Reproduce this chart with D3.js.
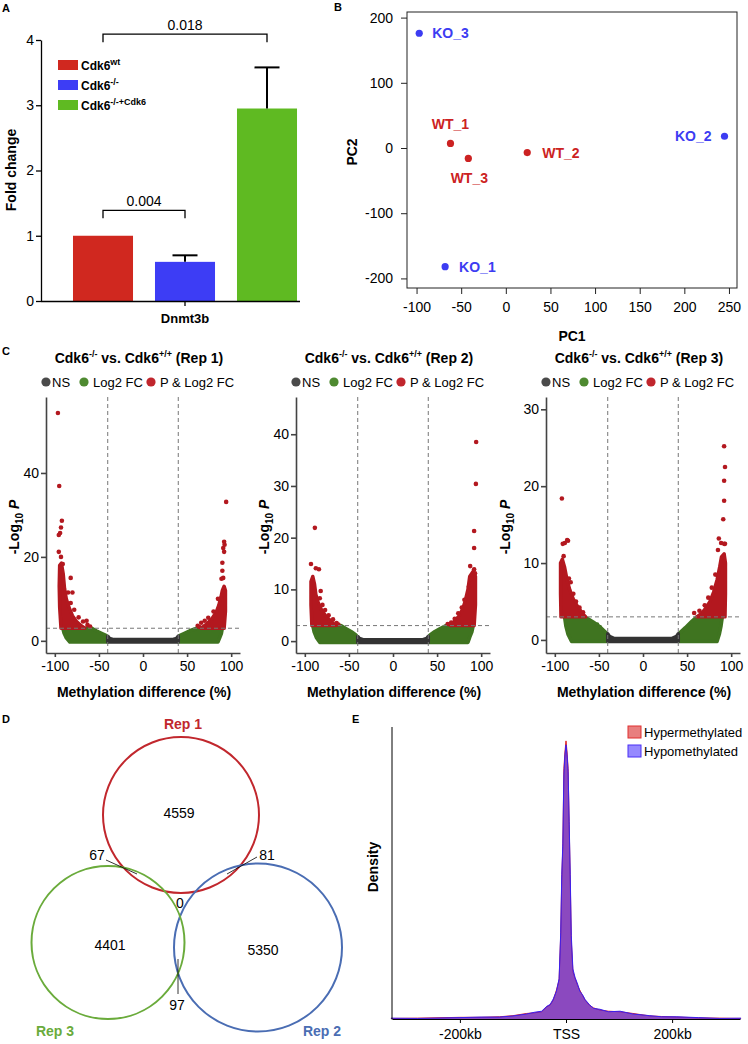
<!DOCTYPE html>
<html>
<head>
<meta charset="utf-8">
<script src="https://d3js.org/d3.v7.min.js"></script>
<style>
  body { margin: 0; background: #fff; }
  svg { display: block; font-family: "Liberation Sans", Arial, sans-serif; }
</style>
</head>
<body>
<svg width="748" height="1044"></svg>
<script>

// ---- A: Dnmt3b fold change
var groupsA = ["wt", "ko", "rescue"];
var supA = ["wt", "-/-", "-/-+Cdk6"];
var foldChange = [1.0, 0.6, 2.95];
var foldErr = [0, 0.1, 0.63];
var pairsA = [[0, 1], [0, 2]];
var pLabelsA = ["0.004", "0.018"];

// ---- B: PCA
var pcaNames = ["KO_3", "KO_1", "KO_2", "WT_1", "WT_3", "WT_2"];
var pc1 = [-97, -68, 245, -62, -42, 24];
var pc2 = [176, -182, 18, 7, -16, -7];
var pcaGroup = ["KO", "KO", "KO", "WT", "WT", "WT"];

// ---- C: volcano plots (dense regions as outlines, sparse points one by one)
var repNames = ["Rep 1", "Rep 2", "Rep 3"];
var volYTicks = [[0, 20, 40], [0, 10, 20, 30, 40], [0, 10, 20, 30]];
var volXTicks = [-100, -50, 0, 50, 100];
var fcCut = 40, pCut = 3;

var nsBand = [
  [[-40,-0.3],[-40,1.1],[-38,0.6],[-33,0.3],[33,0.3],[38,0.6],[40,1.1],[40,-0.3]],
  [[-40,-0.25],[-40,0.9],[-38,0.5],[-33,0.25],[33,0.25],[38,0.5],[40,0.9],[40,-0.25]],
  [[-40,-0.2],[-40,0.8],[-38,0.45],[-33,0.2],[33,0.2],[38,0.45],[40,0.8],[40,-0.2]]
];
var greenLeft = [
  [[-91,3],[-89.5,1.8],[-87,0.7],[-83,-0.3],[-40,-0.3],[-40,0.8],[-42,1.3],[-47,1.8],[-53,2.4],[-58,3]],
  [[-91,3],[-89.5,1.8],[-87,0.7],[-83,-0.25],[-40,-0.25],[-40,0.7],[-42,1.2],[-47,1.8],[-53,2.4],[-59,3]],
  [[-89,3],[-87.5,1.8],[-85,0.7],[-81,-0.2],[-40,-0.2],[-40,0.6],[-42,0.95],[-48,1.6],[-56,2.3],[-66,3]]
];
var greenRight = [
  [[40,-0.3],[40,0.8],[42,1.3],[47,1.8],[53,2.4],[61,3],[90,3],[89,1.8],[87,0.7],[85,-0.3]],
  [[40,-0.25],[40,0.7],[42,1.2],[47,1.8],[53,2.4],[60,3],[91,3],[89.5,1.8],[87,0.7],[85,-0.25]],
  [[40,-0.2],[40,0.6],[42,0.95],[48,1.6],[55,2.4],[61,3],[90,3],[88.5,1.8],[86.5,0.7],[84,-0.2]]
];
var redLeft = [
  [[-93,3],[-94.5,8],[-95,13],[-94.5,18],[-92.5,18.5],[-90.5,16],[-89,12.5],[-87,10],[-84,8],[-80,6],[-75,4.5],[-70,3.6],[-66,3]],
  [[-92,3],[-93,7],[-93,11.5],[-91,12.5],[-89,11],[-87.5,9],[-85,7.5],[-81,6],[-76,4.8],[-70,3.8],[-65,3]],
  [[-93,3],[-93.5,6],[-93.5,10],[-91.5,10.5],[-89,9.5],[-86.5,8],[-83,6.5],[-79,5.3],[-74,4.3],[-69,3.5],[-65,3]]
];
var redRight = [
  [[66,3],[72,4],[78,5.2],[83,6.8],[86,8.5],[88.5,10.5],[90,12],[92,13],[93.5,12],[93.5,7],[92,3]],
  [[65,3],[70,3.9],[75,4.9],[79,6.2],[82,7.8],[85,10],[87,12.5],[91,13.5],[93.5,12.5],[93.5,7],[92,3]],
  [[61,3],[66,3.4],[71,4.1],[76,5],[80,6.2],[84,7.8],[87,9.5],[89,10.8],[92,11.2],[93.5,10],[93.5,6],[93,3]]
];
var redPoints = [
  [[-96.5,54.3],[-95,36.9],[-92,28.6],[-93,27],[-94,25.7],[-95.5,25.2],[-95.5,21.2],[-93,20],[-91,18.3],
   [-82,15],[-80,11.5],[-85,11.5],[-82,9],[-78,7.4],[-73,5.6],[-68,4.6],[-64,4.8],[-63,3.8],[-60,3.4],
   [94.3,33.1],[92,23.6],[92.5,22.9],[91,22.1],[92,21.2],[90,18.6],[90,16.7],[91,15],[89,14.8],
   [85,10],[80,7],[74,5.5],[70,4.8],[66,4.3],[62,3.6],[64,3.3]],
  [[-88.6,21.9],[-93,14.9],[-87.5,14.1],[-84,13.9],[-82,9.7],[-83,8.3],[-80,7],[-77,6],[-73,5],[-68,4.2],[-64,3.5],[-62,3.2],
   [94.3,38.5],[94,30.4],[92,21.3],[92,18],[87.5,14.5],[92,13.9],[93,13.1],[88,12],[86,10.5],[81,8],[78,6.5],
   [74,5.4],[70,4.3],[66,3.6],[62,3.3]],
  [[-92,18.4],[-86,13],[-85,12.9],[-88.6,12.6],[-91,12.5],[-90,10.9],[-84,8],[-82,7.5],[-79,6],[-76,5],[-72,4.2],[-68,3.6],
   [92,25.2],[93,22.5],[92,20.7],[92,18.1],[91,15.7],[86,13.2],[88.6,12.6],[92,12.5],[93,12.5],[85,11.7],
   [82,8.5],[78,6.8],[74,5.5],[70,4.5],[58,3.5],[64,3.8]]
];
var greenPoints = [[], [], [[-52,2],[-49,1.7]]];

// ---- D: Venn counts
var vennSets = ["Rep 1", "Rep 2", "Rep 3"];
var vennRegions = ["1", "2", "3", "1&2", "1&3", "2&3", "1&2&3"];
var vennValues = [4559, 5350, 4401, 81, 67, 97, 0];

// ---- E: density around TSS (kb)
var densKb = [-330,-280,-200,-160,-125,-100,-74,-60,-46,-36,-30,-24,-18,-13,-10,-8,-6,-4,-2,0,
              2,4,6,8,10,13,17,22,26,31,36,44,52,64,80,102,126,158,180,209,250,290,330];
var hyperDens = [0.002,0.003,0.006,0.006,0.008,0.012,0.02,0.022,0.026,0.044,0.05,0.068,0.104,0.14,0.3,0.5,0.62,0.9,0.96,1.0,
                 0.96,0.9,0.7,0.5,0.28,0.17,0.146,0.12,0.104,0.085,0.068,0.05,0.04,0.032,0.028,0.026,0.02,0.011,0.009,0.007,0.004,0.003,0.002];
var hypoDens = [0.003,0.002,0.005,0.007,0.007,0.011,0.018,0.024,0.028,0.046,0.052,0.072,0.1,0.145,0.31,0.52,0.63,0.88,0.95,0.986,
                0.95,0.89,0.71,0.52,0.3,0.18,0.15,0.125,0.1,0.088,0.07,0.052,0.038,0.035,0.026,0.028,0.018,0.012,0.008,0.008,0.005,0.002,0.003];
var densTicks = [-200, 0, 200];
var densTickLabels = ["-200kb", "TSS", "200kb"];

var svg = d3.select("svg");
var fmt = d => String(d);

function styleAxis(sel, col, w, fs) {
    sel.selectAll("path,line").attr("stroke", col).attr("stroke-width", w);
    sel.selectAll("text").attr("fill", "#000").style("font-size", fs + "px")
        .style("font-family", '"Liberation Sans", Arial, sans-serif');
}

// panel letters
[["A", 2, 12], ["B", 334, 11], ["C", 2, 355], ["D", 2, 723], ["E", 352, 723]].forEach(function(d) {
    svg.append("text").attr("x", d[1]).attr("y", d[2]).text(d[0])
        .style("font-weight", "bold").style("font-size", "11px");
});

//
// A
//
var colA = ["#d0281f", "#3d3df5", "#5fba22"];
var yA = d3.scaleLinear().domain([0, 4]).range([301, 40]);
var xA = d3.scaleBand().domain(groupsA).range([62, 308]).paddingInner(0.268).paddingOuter(0.134);

svg.selectAll(".barA").data(foldChange).join("rect")
    .attr("x", (d, i) => xA(groupsA[i]))
    .attr("width", xA.bandwidth())
    .attr("y", d => yA(d))
    .attr("height", d => yA(0) - yA(d))
    .attr("fill", (d, i) => colA[i]);

foldErr.forEach(function(e, i) {
    if (!e) return;
    var cx = xA(groupsA[i]) + xA.bandwidth() / 2;
    svg.append("line").attr("x1", cx).attr("x2", cx)
        .attr("y1", yA(foldChange[i])).attr("y2", yA(foldChange[i] + e))
        .attr("stroke", "#000").attr("stroke-width", 2);
    svg.append("line").attr("x1", cx - 12.5).attr("x2", cx + 12.5)
        .attr("y1", yA(foldChange[i] + e)).attr("y2", yA(foldChange[i] + e))
        .attr("stroke", "#000").attr("stroke-width", 2);
});

var axA = svg.append("g").attr("transform", "translate(41,0)")
    .call(d3.axisLeft(yA).tickValues([0, 1, 2, 3, 4]).tickFormat(fmt).tickSize(5).tickPadding(2).tickSizeOuter(0));
styleAxis(axA, "#000", 1.3, 14);
svg.append("line").attr("x1", 41).attr("x2", 300).attr("y1", 301.5).attr("y2", 301.5)
    .attr("stroke", "#000").attr("stroke-width", 1.3);
svg.append("line").attr("x1", 185).attr("x2", 185).attr("y1", 301).attr("y2", 306)
    .attr("stroke", "#000").attr("stroke-width", 1.3);
svg.append("text").attr("x", 185).attr("y", 323).attr("text-anchor", "middle")
    .style("font-weight", "bold").style("font-size", "13px").text("Dnmt3b");
svg.append("text").attr("transform", "translate(16,170) rotate(-90)").attr("text-anchor", "middle")
    .style("font-weight", "bold").style("font-size", "14px").text("Fold change");

var bracketLevel = [1.39, 4.09];
pairsA.forEach(function(p, i) {
    var xa = xA(groupsA[p[0]]) + xA.bandwidth() / 2, xb = xA(groupsA[p[1]]) + xA.bandwidth() / 2;
    var yy = yA(bracketLevel[i]);
    svg.append("path").attr("d", "M" + xa + "," + (yy + 8) + "V" + yy + "H" + xb + "V" + (yy + 8))
        .attr("fill", "none").attr("stroke", "#000").attr("stroke-width", 1.3);
    svg.append("text").attr("x", (xa + xb) / 2).attr("y", yy - 4).attr("text-anchor", "middle")
        .style("font-size", "14px").text(pLabelsA[i]);
});

supA.forEach(function(s, i) {
    var top = 60 + i * 20;
    svg.append("rect").attr("x", 58).attr("y", top).attr("width", 20).attr("height", 10).attr("fill", colA[i]);
    var t = svg.append("text").attr("x", 81).attr("y", top + 10)
        .style("font-weight", "bold").style("font-size", "12px");
    t.append("tspan").text("Cdk6");
    t.append("tspan").attr("dy", -5).style("font-size", "9px").text(s);
});

//
// B
//
var colB = {KO: "#3c3cf2", WT: "#cc2222"};
var xB = d3.scaleLinear().domain([-110.7, 259]).range([407, 737]);
var yB = d3.scaleLinear().domain([-214.7, 208.6]).range([288, 12]);

svg.append("rect").attr("x", 407).attr("y", 12).attr("width", 330).attr("height", 276)
    .attr("fill", "none").attr("stroke", "#222").attr("stroke-width", 1);
var axBx = svg.append("g").attr("transform", "translate(0,288)")
    .call(d3.axisBottom(xB).tickValues(d3.range(-100, 251, 50)).tickFormat(fmt).tickSize(6).tickPadding(8).tickSizeOuter(0));
axBx.select(".domain").remove();
styleAxis(axBx, "#222", 1, 14);
var axBy = svg.append("g").attr("transform", "translate(407,0)")
    .call(d3.axisLeft(yB).tickValues([-200, -100, 0, 100, 200]).tickFormat(fmt).tickSize(6).tickPadding(8).tickSizeOuter(0));
axBy.select(".domain").remove();
styleAxis(axBy, "#222", 1, 14);

svg.append("text").attr("x", 572).attr("y", 341).attr("text-anchor", "middle")
    .style("font-weight", "bold").style("font-size", "14px").text("PC1");
svg.append("text").attr("transform", "translate(357,152) rotate(-90)").attr("text-anchor", "middle")
    .style("font-weight", "bold").style("font-size", "14px").text("PC2");

var pcaLabelPos = {
    KO_3: [13, 5, "start"], KO_1: [14, 5, "start"], KO_2: [-13, 5, "end"],
    WT_1: [0, -14, "middle"], WT_3: [1, 25, "middle"], WT_2: [15, 5, "start"]
};
pcaNames.forEach(function(n, i) {
    var cx = xB(pc1[i]), cy = yB(pc2[i]), lp = pcaLabelPos[n];
    svg.append("circle").attr("cx", cx).attr("cy", cy).attr("r", 3.6).attr("fill", colB[pcaGroup[i]]);
    svg.append("text").attr("x", cx + lp[0]).attr("y", cy + lp[1]).attr("text-anchor", lp[2])
        .attr("fill", colB[pcaGroup[i]]).style("font-weight", "bold").style("font-size", "14px").text(n);
});

//
// C
//
var RED = "#b3181f", GREEN = "#3f7420", NSCOL = "#333333";
var volLayout = [
    {x0: 46, yDom: [-2.9, 58.1], labelX: 19},
    {x0: 296, yDom: [-2.3, 47.2], labelX: 269},
    {x0: 546, yDom: [-1.7, 31.6], labelX: 510}
];

volLayout.forEach(function(L, k) {
    var g = svg.append("g");
    var x = d3.scaleLinear().domain([-110, 110]).range([L.x0, L.x0 + 194]);
    var y = d3.scaleLinear().domain(L.yDom).range([653, 397]);
    var line = d3.line().x(d => x(d[0])).y(d => y(d[1]));

    function blob(pts, col) {
        g.append("path").attr("d", line(pts) + "Z").attr("fill", col).attr("stroke", col)
            .attr("stroke-width", 3.5).attr("stroke-linejoin", "round");
    }
    blob(greenLeft[k], GREEN);
    blob(greenRight[k], GREEN);
    blob(nsBand[k], NSCOL);
    g.selectAll(".gp").data(greenPoints[k]).join("circle")
        .attr("cx", d => x(d[0])).attr("cy", d => y(d[1])).attr("r", 2.2).attr("fill", GREEN);
    blob(redLeft[k], RED);
    blob(redRight[k], RED);
    g.selectAll(".rp").data(redPoints[k]).join("circle")
        .attr("cx", d => x(d[0])).attr("cy", d => y(d[1])).attr("r", 2.3).attr("fill", RED);

    // cutoffs
    [-fcCut, fcCut].forEach(function(v) {
        g.append("line").attr("x1", x(v)).attr("x2", x(v)).attr("y1", 397).attr("y2", 653)
            .attr("stroke", "#777").attr("stroke-dasharray", "4,3").attr("stroke-width", 1);
    });
    g.append("line").attr("x1", L.x0).attr("x2", L.x0 + 194).attr("y1", y(pCut)).attr("y2", y(pCut))
        .attr("stroke", "#777").attr("stroke-dasharray", "4,3").attr("stroke-width", 1);

    var ay = g.append("g").attr("transform", "translate(" + L.x0 + ",0)")
        .call(d3.axisLeft(y).tickValues(volYTicks[k]).tickFormat(fmt).tickSize(5).tickPadding(2).tickSizeOuter(0));
    styleAxis(ay, "#444", 1.6, 14);
    var ax = g.append("g").attr("transform", "translate(0,653)")
        .call(d3.axisBottom(x).tickValues(volXTicks).tickFormat(fmt).tickSize(4).tickPadding(4).tickSizeOuter(0));
    styleAxis(ax, "#444", 1.6, 14);

    // title
    var t = g.append("text").attr("x", L.x0 + 93).attr("y", 363).attr("text-anchor", "middle")
        .style("font-weight", "bold").style("font-size", "14px");
    t.append("tspan").text("Cdk6");
    t.append("tspan").attr("dy", -6).style("font-size", "9px").text("-/-");
    t.append("tspan").attr("dy", 6).text(" vs. Cdk6");
    t.append("tspan").attr("dy", -6).style("font-size", "9px").text("+/+");
    t.append("tspan").attr("dy", 6).text(" (" + repNames[k] + ")");

    // legend
    [["NS", "#4a4a4a", 0, 6], ["Log2 FC", "#4e8a30", 38, 47], ["P & Log2 FC", "#c0262d", 105, 114]].forEach(function(d) {
        g.append("circle").attr("cx", L.x0 + d[2]).attr("cy", 382).attr("r", 4.6).attr("fill", d[1]);
        g.append("text").attr("x", L.x0 + d[3]).attr("y", 386.5).style("font-size", "13px").text(d[0]);
    });

    g.append("text").attr("x", L.x0 + 98).attr("y", 697).attr("text-anchor", "middle")
        .style("font-weight", "bold").style("font-size", "14px").text("Methylation difference (%)");

    var yl = g.append("text").attr("transform", "translate(" + L.labelX + ",527) rotate(-90)")
        .attr("text-anchor", "middle").style("font-weight", "bold").style("font-size", "14px");
    yl.append("tspan").text("-Log");
    yl.append("tspan").attr("dy", 4).style("font-size", "10px").text("10");
    yl.append("tspan").attr("dy", -4).style("font-style", "italic").text(" P");
});

//
// D
//
var vennCircles = [
    {set: "Rep 1", cx: 181, cy: 815, r: 78, col: "#c1272d", lx: 183, ly: 729},
    {set: "Rep 2", cx: 258, cy: 947.5, r: 84, col: "#4a6db3", lx: 322, ly: 1036},
    {set: "Rep 3", cx: 108, cy: 942.5, r: 76.5, col: "#6aab3b", lx: 55, ly: 1036}
];
vennCircles.forEach(function(c) {
    svg.append("circle").attr("cx", c.cx).attr("cy", c.cy).attr("r", c.r)
        .attr("fill", "none").attr("stroke", c.col).attr("stroke-width", 2);
    svg.append("text").attr("x", c.lx).attr("y", c.ly).attr("text-anchor", "middle").attr("fill", c.col)
        .style("font-weight", "bold").style("font-size", "14px").text(c.set);
});
var vennLabelPos = {
    "1": [179, 818], "2": [263, 955], "3": [110, 950], "1&2": [267, 860],
    "1&3": [97, 860], "2&3": [177, 1010], "1&2&3": [180, 908]
};
vennRegions.forEach(function(r, i) {
    var p = vennLabelPos[r];
    svg.append("text").attr("x", p[0]).attr("y", p[1]).attr("text-anchor", "middle")
        .style("font-size", "14px").text(vennValues[i]);
});
[[106, 860, 137, 874], [257, 857, 227, 874], [178, 959, 178, 994]].forEach(function(l) {
    svg.append("line").attr("x1", l[0]).attr("y1", l[1]).attr("x2", l[2]).attr("y2", l[3])
        .attr("stroke", "#000").attr("stroke-width", 0.8);
});

//
// E
//
var xE = d3.scaleLinear().domain([-328, 328]).range([392, 740]);
var yE = d3.scaleLinear().domain([0, 1.05]).range([1019, 727]);
var areaE = d3.area().x((d, i) => xE(densKb[i])).y0(yE(0)).y1(d => yE(d));
var lineE = d3.line().x((d, i) => xE(densKb[i])).y(d => yE(d));

svg.append("path").attr("d", areaE(hyperDens)).attr("fill", "rgb(210,0,0)").attr("fill-opacity", 0.5);
svg.append("path").attr("d", lineE(hyperDens)).attr("fill", "none").attr("stroke", "#e02020").attr("stroke-width", 1);
svg.append("path").attr("d", areaE(hypoDens)).attr("fill", "rgb(45,20,255)").attr("fill-opacity", 0.5);
svg.append("path").attr("d", lineE(hypoDens)).attr("fill", "none").attr("stroke", "#3a20f0").attr("stroke-width", 1);

svg.append("line").attr("x1", 392).attr("x2", 392).attr("y1", 727).attr("y2", 1019.5)
    .attr("stroke", "#000").attr("stroke-width", 1);
var axE = svg.append("g").attr("transform", "translate(0,1019)")
    .call(d3.axisBottom(xE).tickValues(densTicks).tickFormat((d, i) => densTickLabels[i]).tickSize(4).tickPadding(6).tickSizeOuter(0));
styleAxis(axE, "#000", 1, 14);
svg.append("text").attr("transform", "translate(378,867) rotate(-90)").attr("text-anchor", "middle")
    .style("font-weight", "bold").style("font-size", "14px").text("Density");

[["Hypermethylated", "rgba(210,0,0,0.5)", "#e03030", 726], ["Hypomethylated", "rgba(45,20,255,0.5)", "#4a30f5", 745]].forEach(function(d) {
    svg.append("rect").attr("x", 628).attr("y", d[3]).attr("width", 13).attr("height", 12)
        .attr("fill", d[1]).attr("stroke", d[2]).attr("stroke-width", 1);
    svg.append("text").attr("x", 644).attr("y", d[3] + 11).style("font-size", "13px").text(d[0]);
});

</script>
</body>
</html>
